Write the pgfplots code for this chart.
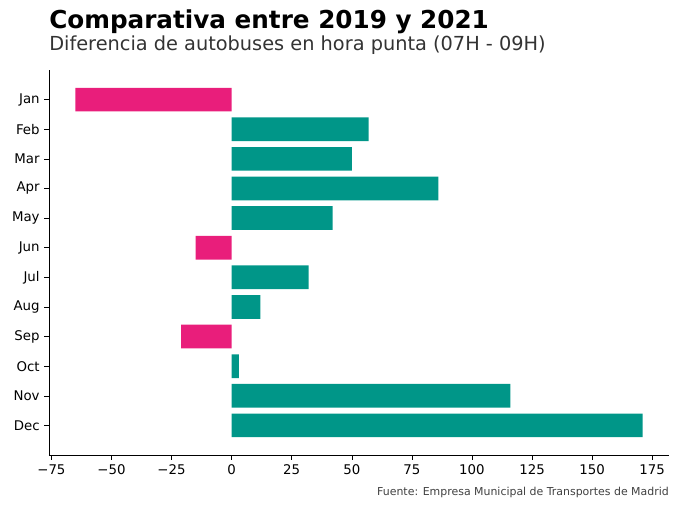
\documentclass[border=0pt]{standalone}
\usepackage{pgfplots}
\pgfplotsset{compat=1.18}
\usepackage{fontspec}
\setmainfont{DejaVu Sans}
\definecolor{teal}{HTML}{009688}
\definecolor{pinkb}{HTML}{E91E7B}
\begin{document}
\begin{tikzpicture}[x=0.75pt,y=0.75pt]
\useasboundingbox (-49,-57) rectangle (630,455);
\begin{axis}[at={(0,0)},anchor=south west,scale only axis,
 width=465pt,height=288.75pt,
 xmin=-76,xmax=182,ymin=-1,ymax=12,y dir=reverse,
 axis x line*=bottom,axis y line*=left,
 xtick={-75,-50,...,175},
 xticklabels={−75,−50,−25,0,25,50,75,100,125,150,175},
 ytick={0,...,11},
 yticklabels={Jan,Feb,Mar,Apr,May,Jun,Jul,Aug,Sep,Oct,Nov,Dec},
 tick style={black,thin},tick align=outside,major tick length=3.5pt,
 ticklabel style={font=\fontsize{10}{12}\selectfont},
 xbar,bar width=0.8,bar shift=0pt]
\addplot[draw=none,fill=teal] coordinates {(57,1)(50,2)(86,3)(42,4)(32,6)(12,7)(3,9)(116,10)(171,11)};
\addplot[draw=none,fill=pinkb] coordinates {(-65,0)(-15,5)(-21,8)};
\end{axis}
\node[inner sep=0,anchor=base west,font=\bfseries\fontsize{18.5}{22}\selectfont] at (0,427) {Comparativa entre 2019 y 2021};
\node[inner sep=0,anchor=base west,font=\fontsize{14.5}{17}\selectfont,text=black!80] at (0,405) {Diferencia de autobuses en hora punta (07H - 09H)};
\node[inner sep=0,anchor=base east,font=\fontsize{8.2}{10}\selectfont,text=black!75] at (620,-40) {Fuente: Empresa Municipal de Transportes de Madrid};
\end{tikzpicture}
\end{document}
